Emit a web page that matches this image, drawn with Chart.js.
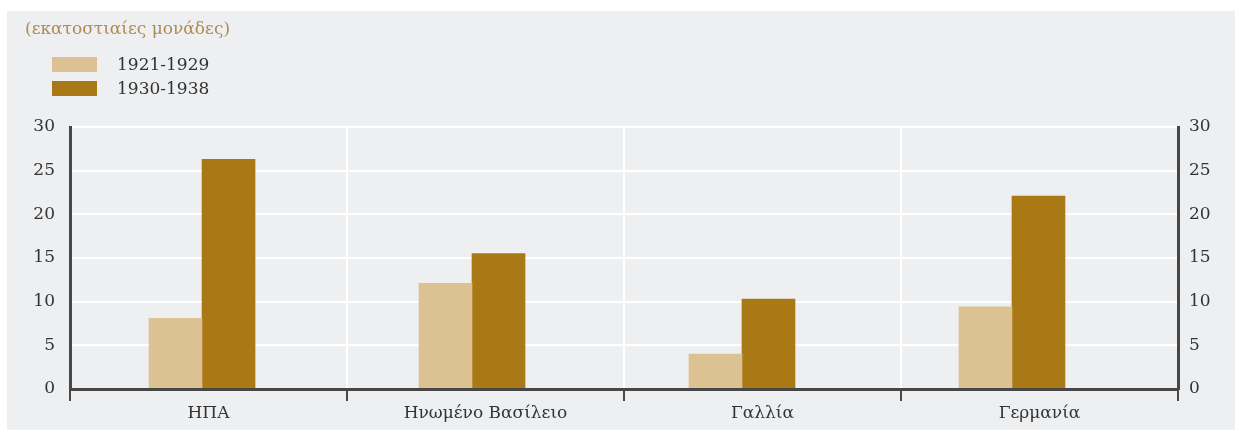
<!DOCTYPE html>
<html>
<head>
<meta charset="utf-8">
<script src="https://cdn.jsdelivr.net/npm/chart.js@4.4.1/dist/chart.umd.min.js"></script>
<style>
  body { margin: 0; background: #fff; font-family: 'DejaVu Serif', serif; }
  #panel { position: absolute; left: 7px; top: 11px; width: 1228px; height: 419px; background: #eeeff1; }
  #units { position: absolute; left: 18px; top: 8px; font-size: 17px; line-height: 18px; color: #b08a52; }
  #legend { position: absolute; left: 45px; top: 41px; }
  .item { display: flex; align-items: center; height: 24px; font-size: 17px; color: #333; }
  .swatch { width: 45px; height: 15px; margin-right: 20px; }
  canvas { position: absolute; left: 0; top: 0; }
</style>
</head>
<body>
<div id="panel">
  <canvas id="chart" width="1228" height="419"></canvas>
  <div id="units">(εκατοστιαίες μονάδες)</div>
  <div id="legend"></div>
</div>
<script>
const countries = ['ΗΠΑ', 'Ηνωμένο Βασίλειο', 'Γαλλία', 'Γερμανία'];
const periods = ['1921-1929', '1930-1938'];
const values1921 = [8.1, 12.1, 4.0, 9.4];
const values1930 = [26.3, 15.5, 10.3, 22.1];
const yTicks = [0, 5, 10, 15, 20, 25, 30];
const colors = ['#dcc193', '#a87914'];

const series = [values1921, values1930];

// legend in html
const legend = document.getElementById('legend');
periods.forEach((p, i) => {
  const row = document.createElement('div');
  row.className = 'item';
  row.innerHTML = '<span class="swatch" style="background:' + colors[i] + '"></span>' + p;
  legend.appendChild(row);
});

const axisColor = '#474747';
const textColor = '#333';
const font = { family: 'DejaVu Serif', size: 17 };

const datasets = series.map((vals, i) => ({
  label: periods[i],
  data: vals.map((v, j) => ({ x: j, y: v })),
  backgroundColor: colors[i],
  borderWidth: 0,
  barThickness: 53,
  xAxisID: 'xb',
  yAxisID: 'y'
}));

new Chart(document.getElementById('chart'), {
  type: 'bar',
  data: { labels: countries, datasets: datasets },
  options: {
    responsive: false,
    animation: false,
    layout: { padding: { top: 116, left: 0, right: 0, bottom: 0 } },
    plugins: { legend: { display: false }, tooltip: { enabled: false } },
    scales: {
      x: {
        type: 'category',
        labels: countries,
        position: 'bottom',
        offset: true,
        grid: { color: '#fff', lineWidth: 2, offset: true, tickLength: 12, tickColor: axisColor, tickWidth: 2 },
        border: { color: axisColor, width: 3, z: 1 },
        ticks: { padding: 2, color: textColor, font: font, maxRotation: 0, autoSkip: false },
        afterFit: s => { s.height = 41; }
      },
      // bars sit on their own hidden axis
      xb: {
        type: 'linear',
        axis: 'x',
        position: 'bottom',
        display: false,
        offset: false,
        min: -0.489,
        max: 3.615,
        ticks: { stepSize: 1, includeBounds: false }
      },
      y: {
        position: 'left',
        min: yTicks[0],
        max: yTicks[yTicks.length - 1],
        ticks: { stepSize: yTicks[1] - yTicks[0], padding: 15, color: textColor, font: font },
        grid: { color: '#fff', lineWidth: 2, drawTicks: false },
        border: { color: axisColor, width: 3 },
        afterFit: s => { s.width = 63; }
      },
      y2: {
        position: 'right',
        min: yTicks[0],
        max: yTicks[yTicks.length - 1],
        ticks: { stepSize: yTicks[1] - yTicks[0], padding: 11, color: textColor, font: font },
        grid: { display: false, drawTicks: false },
        border: { color: axisColor, width: 3 },
        afterFit: s => { s.width = 57; }
      }
    }
  }
});
</script>
</body>
</html>
